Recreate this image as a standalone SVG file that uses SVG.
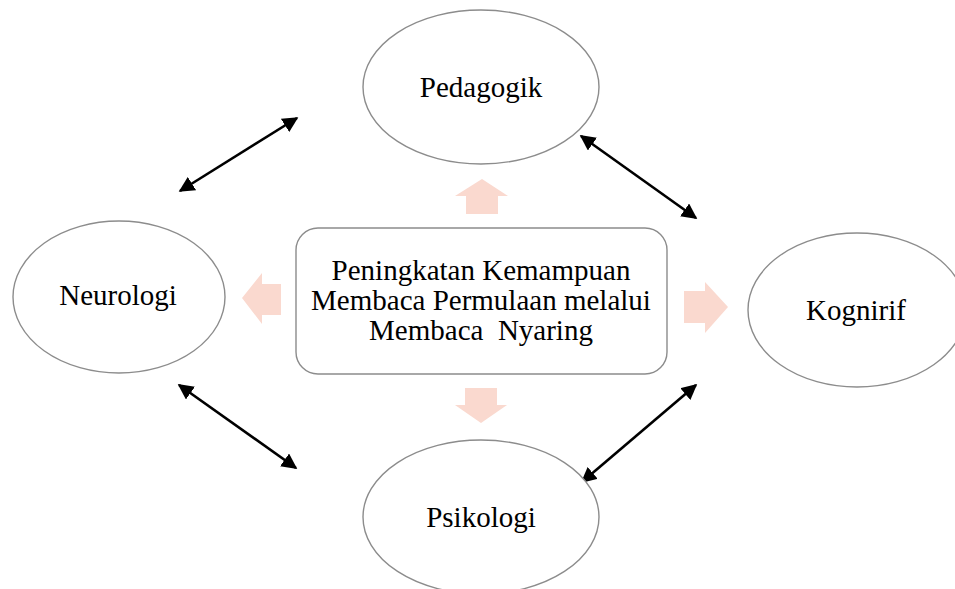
<svg xmlns="http://www.w3.org/2000/svg" width="955" height="589" viewBox="0 0 955 589">
<defs>
<style>
.node{fill:#fff;stroke:#8c8c8c;stroke-width:1.4}
.lbl{font-family:"Liberation Serif","Times New Roman",serif;font-size:29px;fill:#000;text-anchor:middle}
.pink{fill:#FAD9CF}
.conn{stroke:#000;stroke-width:2.6;fill:none;marker-start:url(#ah);marker-end:url(#ah)}
</style>
<marker id="ah" viewBox="0 0 10 10" refX="9" refY="5" markerWidth="6" markerHeight="6" orient="auto-start-reverse" markerUnits="strokeWidth">
<path d="M0,0 L10,5 L0,10 z" fill="#000"/>
</marker>
</defs>
<rect width="955" height="589" fill="#fff"/>
<g id="pink-arrows">
<path class="pink" d="M482,179 L508,196 L498,196 L498,214 L466,214 L466,196 L455,196 z"/>
<path class="pink" d="M481,423 L507,405 L497,405 L497,388 L465,388 L465,405 L455,405 z"/>
<path class="pink" d="M242,298 L262,273 L262,284 L281,284 L281,315 L262,315 L262,324 z"/>
<path class="pink" d="M728,307 L705,282 L705,291 L684,291 L684,323 L705,323 L705,333 z"/>
</g>
<g id="connectors">
<line class="conn" x1="180" y1="191" x2="297" y2="118"/>
<line class="conn" x1="581" y1="136" x2="696" y2="218"/>
<line class="conn" x1="179" y1="385" x2="296" y2="468"/>
<line class="conn" x1="696" y1="385" x2="582" y2="482"/>
</g>
<g id="center">
<rect class="node" x="296" y="228" width="371" height="146" rx="22" ry="22"/>
<text class="lbl" x="481" y="280">Peningkatan Kemampuan</text>
<text class="lbl" x="481" y="310">Membaca Permulaan melalui</text>
<text class="lbl" x="481" y="340" xml:space="preserve">Membaca  Nyaring</text>
</g>
<g id="pedagogik">
<ellipse class="node" cx="481" cy="87" rx="118" ry="77"/>
<text class="lbl" x="481" y="97">Pedagogik</text>
</g>
<g id="neurologi">
<ellipse class="node" cx="119" cy="297" rx="106" ry="76"/>
<text class="lbl" x="118" y="305">Neurologi</text>
</g>
<g id="kognirif">
<ellipse class="node" cx="857" cy="310" rx="109" ry="77"/>
<text class="lbl" x="856" y="320">Kognirif</text>
</g>
<g id="psikologi">
<ellipse class="node" cx="481" cy="517" rx="118" ry="77"/>
<text class="lbl" x="481" y="527">Psikologi</text>
</g>
</svg>
